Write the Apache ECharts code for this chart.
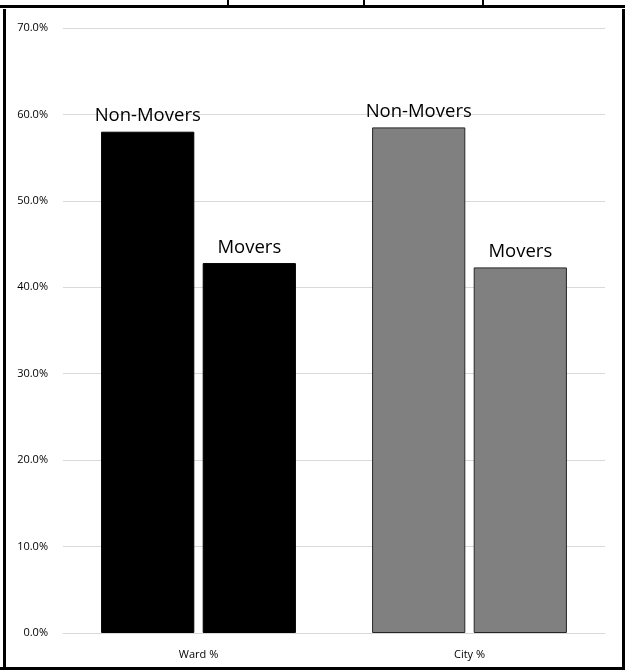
<!DOCTYPE html>
<html>
<head>
<meta charset="utf-8">
<script src="https://cdn.jsdelivr.net/npm/echarts@6/dist/echarts.min.js"></script>
<style>
html,body{margin:0;padding:0;background:#fff;}
#chart{width:625px;height:670px;}
</style>
</head>
<body>
<div id="chart"></div>
<script>
const categories = ['Ward %', 'City %'];
const nonMovers = [58.0, 58.5];
const movers = [42.8, 42.3];
const barLabels = ['Non-Movers', 'Movers'];
const barColors = ['#000000', '#808080'];
const yTicks = [0, 10, 20, 30, 40, 50, 60, 70];

const chart = echarts.init(document.getElementById('chart'));

function dataFor(values) {
  return values.map((v, i) => ({
    value: v,
    itemStyle: {
      color: barColors[i],
      borderColor: i === 0 ? '#000000' : '#262626',
      borderWidth: 1
    }
  }));
}

const labelStyle = {
  show: true,
  position: 'top',
  distance: 6,
  fontFamily: 'Open Sans',
  fontSize: 18.5,
  color: '#000000'
};

chart.setOption({
  animation: false,
  backgroundColor: '#ffffff',
  grid: { left: 63, right: 20, top: 28, bottom: 37, containLabel: false },
  xAxis: {
    type: 'category',
    data: categories,
    axisLine: { show: true, lineStyle: { color: '#d9d9d9', width: 1 } },
    axisTick: { show: false },
    axisLabel: { fontFamily: 'Open Sans', fontSize: 11, color: '#000000', margin: 16 }
  },
  yAxis: {
    type: 'value',
    min: yTicks[0],
    max: yTicks[yTicks.length - 1],
    interval: 10,
    axisLine: { show: false },
    axisTick: { show: false },
    splitLine: { lineStyle: { color: '#d9d9d9', width: 1 } },
    axisLabel: {
      fontFamily: 'Open Sans', fontSize: 11, color: '#000000', margin: 15,
      formatter: v => v.toFixed(1) + '%'
    }
  },
  series: [
    {
      name: barLabels[0],
      type: 'bar',
      data: dataFor(nonMovers),
      barWidth: '34.4%',
      barGap: '9%',
      label: Object.assign({}, labelStyle, { formatter: barLabels[0] })
    },
    {
      name: barLabels[1],
      type: 'bar',
      data: dataFor(movers),
      barWidth: '34.4%',
      label: Object.assign({}, labelStyle, { formatter: barLabels[1] })
    }
  ],
  graphic: [
    { type: 'rect', shape: { x: 0, y: 5, width: 625, height: 3 }, style: { fill: '#000' } },
    { type: 'rect', shape: { x: 3, y: 9, width: 3, height: 661 }, style: { fill: '#000' } },
    { type: 'rect', shape: { x: 622, y: 9, width: 3, height: 661 }, style: { fill: '#000' } },
    { type: 'rect', shape: { x: 0, y: 667, width: 625, height: 3 }, style: { fill: '#000' } },
    { type: 'rect', shape: { x: 227, y: 0, width: 2, height: 5 }, style: { fill: '#000' } },
    { type: 'rect', shape: { x: 363, y: 0, width: 2, height: 5 }, style: { fill: '#000' } },
    { type: 'rect', shape: { x: 482, y: 0, width: 2, height: 5 }, style: { fill: '#000' } }
  ]
});
</script>
</body>
</html>
